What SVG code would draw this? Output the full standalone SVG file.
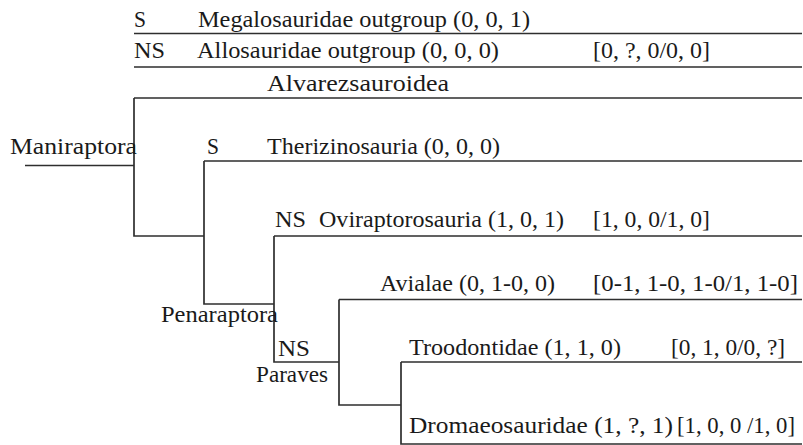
<svg xmlns="http://www.w3.org/2000/svg" width="803" height="445" viewBox="0 0 803 445">
<style>
.t text{font-family:'Liberation Serif','Times New Roman',Times,serif;font-size:23px;fill:#1a1a1a}
.b{stroke:#2e2e2e;stroke-width:1.7;fill:none}
</style>
<rect width="803" height="445" fill="#fff"/>
<g id="connectors" class="b">
<path d="M134 33.5H802M134 67H802M134 98H802M25 165.5H134M134 98V236H204M204 161H802M204 161V304H274M274 236H802M274 236V362H339M339 299.5H802M339 299.5V405H401M401 362H802M401 362V444H802"/>
</g>
<g class="t" font-family="Liberation Serif" font-size="23">
<g id="megalosauridae"><text x="134" y="26.5" textLength="12" lengthAdjust="spacingAndGlyphs">S</text><text x="198" y="26.5" textLength="332" lengthAdjust="spacingAndGlyphs">Megalosauridae outgroup (0, 0, 1)</text></g>
<g id="allosauridae"><text x="134" y="58" textLength="31" lengthAdjust="spacingAndGlyphs">NS</text><text x="197" y="58" textLength="302" lengthAdjust="spacingAndGlyphs">Allosauridae outgroup (0, 0, 0)</text><text x="593" y="58" textLength="117" lengthAdjust="spacingAndGlyphs">[0, ?, 0/0, 0]</text></g>
<g id="alvarezsauroidea"><text x="267" y="91" textLength="182" lengthAdjust="spacingAndGlyphs">Alvarezsauroidea</text></g>
<g id="maniraptora"><text x="10" y="154" textLength="127" lengthAdjust="spacingAndGlyphs">Maniraptora</text></g>
<g id="therizinosauria"><text x="207" y="153.5" textLength="12" lengthAdjust="spacingAndGlyphs">S</text><text x="267" y="153.5" textLength="233" lengthAdjust="spacingAndGlyphs">Therizinosauria (0, 0, 0)</text></g>
<g id="oviraptorosauria"><text x="275" y="227" textLength="31" lengthAdjust="spacingAndGlyphs">NS</text><text x="319" y="227" textLength="245" lengthAdjust="spacingAndGlyphs">Oviraptorosauria (1, 0, 1)</text><text x="593" y="227" textLength="117" lengthAdjust="spacingAndGlyphs">[1, 0, 0/1, 0]</text></g>
<g id="penaraptora"><text x="161" y="322" textLength="117" lengthAdjust="spacingAndGlyphs">Penaraptora</text></g>
<g id="avialae"><text x="380" y="291" textLength="175" lengthAdjust="spacingAndGlyphs">Avialae (0, 1-0, 0)</text><text x="593" y="291" textLength="205" lengthAdjust="spacingAndGlyphs">[0-1, 1-0, 1-0/1, 1-0]</text></g>
<g id="paraves"><text x="278" y="356" textLength="32" lengthAdjust="spacingAndGlyphs">NS</text><text x="256" y="381.5" textLength="72" lengthAdjust="spacingAndGlyphs">Paraves</text></g>
<g id="troodontidae"><text x="409" y="355" textLength="212" lengthAdjust="spacingAndGlyphs">Troodontidae (1, 1, 0)</text><text x="671" y="355" textLength="114" lengthAdjust="spacingAndGlyphs">[0, 1, 0/0, ?]</text></g>
<g id="dromaeosauridae"><text x="409" y="432.5" textLength="264" lengthAdjust="spacingAndGlyphs">Dromaeosauridae (1, ?, 1)</text><text x="677" y="432.5" textLength="118" lengthAdjust="spacingAndGlyphs">[1, 0, 0 /1, 0]</text></g>
</g>
</svg>
